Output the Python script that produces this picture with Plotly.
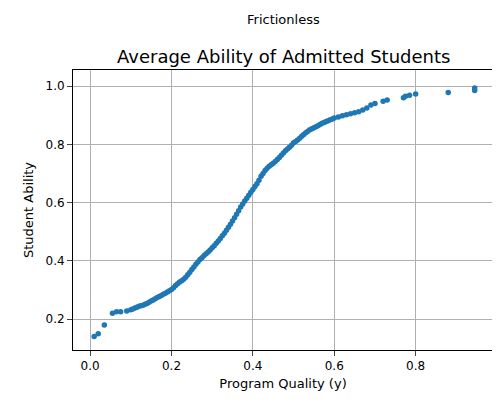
import plotly.graph_objects as go

quality = [0.01,0.02,0.035,0.055,0.065,0.075,0.09,0.1,0.11,0.12,0.13,0.14,0.15,0.16,0.17,0.18,0.19,0.2,0.21,0.22,0.23,0.24,0.25,0.26,0.27,0.28,0.29,0.30,0.31,0.32,0.33,0.34,0.35,0.36,0.37,0.38,0.39,0.40,0.41,0.42,0.43,0.44,0.45,0.46,0.47,0.48,0.49,0.50,0.51,0.52,0.53,0.54,0.55,0.56,0.57,0.58,0.59,0.60,0.62,0.64,0.66,0.68,0.69,0.70,0.72,0.73,0.77,0.775,0.785,0.80,0.88,0.945,0.945,
           0.105,0.115,0.125,0.135,0.145,0.155,0.165,0.175,0.185,0.195,0.205,0.215,0.225,0.235,0.245,0.255,0.265,0.275,0.285,0.295,0.305,0.315,0.325,0.335,0.345,0.355,0.365,0.375,0.385,0.395,0.405,0.415,0.425,0.435,0.445,0.455,0.465,0.475,0.485,0.495,0.505,0.515,0.525,0.535,0.545,0.555,0.565,0.575,0.585,0.595,0.61,0.63,0.65,0.67]
ability = [0.14,0.15,0.18,0.22,0.225,0.225,0.228,0.232,0.238,0.244,0.248,0.254,0.262,0.27,0.278,0.285,0.293,0.302,0.315,0.327,0.337,0.352,0.37,0.388,0.405,0.418,0.43,0.445,0.46,0.477,0.495,0.515,0.537,0.56,0.585,0.605,0.625,0.645,0.665,0.69,0.71,0.725,0.735,0.748,0.762,0.778,0.79,0.805,0.815,0.828,0.84,0.85,0.857,0.864,0.872,0.878,0.884,0.89,0.898,0.905,0.912,0.925,0.935,0.94,0.948,0.952,0.96,0.965,0.968,0.973,0.978,0.985,0.993,
           0.235,0.241,0.246,0.251,0.258,0.266,0.274,0.281,0.289,0.297,0.308,0.321,0.332,0.344,0.361,0.379,0.396,0.411,0.424,0.437,0.452,0.468,0.486,0.505,0.526,0.548,0.572,0.595,0.615,0.635,0.655,0.677,0.70,0.718,0.73,0.741,0.755,0.77,0.784,0.797,0.81,0.821,0.834,0.845,0.853,0.86,0.868,0.875,0.881,0.887,0.894,0.901,0.908,0.918]

fig = go.Figure(go.Scatter(x=quality, y=ability, mode="markers",
                           marker=dict(color="#1f77b4", size=5.5)))
ax = dict(showline=True, linecolor="black", mirror=True, ticks="outside",
          showgrid=True, gridcolor="#b0b0b0", zeroline=False, automargin=False,
          tickfont=dict(size=12, color="black"))
fig.update_layout(
    width=500, height=400, plot_bgcolor="white", paper_bgcolor="white",
    font=dict(family="DejaVu Sans", color="black"),
    margin=dict(l=65, r=15, t=62, b=58, autoexpand=False), showlegend=False,
    xaxis=dict(ax, range=[-0.042, 0.99], tickvals=[0, 0.2, 0.4, 0.6, 0.8], tickformat=".1f",
               title=dict(text="Program Quality (y)", font=dict(size=13), standoff=6)),
    yaxis=dict(ax, range=[0.094, 1.055], tickvals=[0.2, 0.4, 0.6, 0.8, 1.0], tickformat=".1f",
               title=dict(text="Student Ability", font=dict(size=13), standoff=8)),
)
fig.add_annotation(text="Frictionless", xref="paper", yref="paper", x=0.5, y=1.18,
                   yanchor="middle", showarrow=False, font=dict(size=13))
fig.add_annotation(text="Average Ability of Admitted Students", xref="paper", yref="paper",
                   x=0.5, y=1.005, yanchor="bottom", showarrow=False, font=dict(size=18))
fig.write_html("out.html")
